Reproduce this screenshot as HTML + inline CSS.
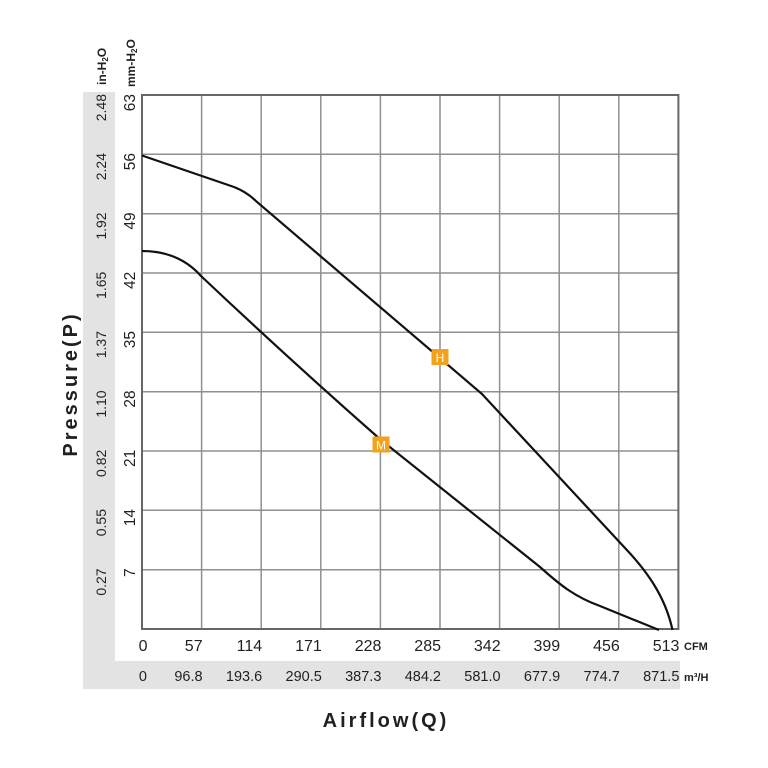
<!DOCTYPE html>
<html><head><meta charset="utf-8"><style>
html,body{margin:0;padding:0;background:#fff;}
svg{display:block;}
text{font-family:"Liberation Sans",sans-serif;fill:#231f20;}
</style></head><body>
<svg width="768" height="768" viewBox="0 0 768 768" xmlns="http://www.w3.org/2000/svg">
<rect x="0" y="0" width="768" height="768" fill="#fff"/>
<!-- gray bands -->
<rect x="83" y="92" width="32" height="597" fill="#e3e3e3"/>
<rect x="83" y="661" width="597" height="28" fill="#e3e3e3"/>
<!-- grid -->
<g stroke="#8f8f8f" stroke-width="1.5">
<line x1="201.6" y1="95" x2="201.6" y2="629"/>
<line x1="261.2" y1="95" x2="261.2" y2="629"/>
<line x1="320.8" y1="95" x2="320.8" y2="629"/>
<line x1="380.4" y1="95" x2="380.4" y2="629"/>
<line x1="440" y1="95" x2="440" y2="629"/>
<line x1="499.6" y1="95" x2="499.6" y2="629"/>
<line x1="559.2" y1="95" x2="559.2" y2="629"/>
<line x1="618.8" y1="95" x2="618.8" y2="629"/>
<line x1="142" y1="154.3" x2="678.4" y2="154.3"/>
<line x1="142" y1="213.7" x2="678.4" y2="213.7"/>
<line x1="142" y1="273" x2="678.4" y2="273"/>
<line x1="142" y1="332.3" x2="678.4" y2="332.3"/>
<line x1="142" y1="391.7" x2="678.4" y2="391.7"/>
<line x1="142" y1="451" x2="678.4" y2="451"/>
<line x1="142" y1="510.3" x2="678.4" y2="510.3"/>
<line x1="142" y1="569.7" x2="678.4" y2="569.7"/>
</g>
<rect x="142" y="95" width="536.4" height="534" fill="none" stroke="#666" stroke-width="2"/>
<!-- curves -->
<path d="M142 155.5 L234 187 Q247 192 257 202 L482 394 L625 548 C645 569 665 595 672.5 630" fill="none" stroke="#111" stroke-width="2.2"/>
<path d="M142 251 C165 251 185 258 201 276 Q290 360 381 440 L540 567 C560 585 575 597 600 606 L659 630" fill="none" stroke="#111" stroke-width="2.2"/>
<!-- markers -->
<rect x="431.5" y="349" width="17" height="16" fill="#f2a31b"/>
<text x="440" y="362" font-size="12" text-anchor="middle" style="fill:#fff">H</text>
<rect x="372.5" y="436.5" width="17" height="16" fill="#f2a31b"/>
<text x="381" y="449.5" font-size="12" text-anchor="middle" style="fill:#fff">M</text>
<!-- y tick labels mm -->
<g font-size="15.5" text-anchor="end">
<text transform="translate(135,94) rotate(-90)">63</text>
<text transform="translate(135,153) rotate(-90)">56</text>
<text transform="translate(135,212.4) rotate(-90)">49</text>
<text transform="translate(135,271.7) rotate(-90)">42</text>
<text transform="translate(135,331) rotate(-90)">35</text>
<text transform="translate(135,390.4) rotate(-90)">28</text>
<text transform="translate(135,449.7) rotate(-90)">21</text>
<text transform="translate(135,509) rotate(-90)">14</text>
<text transform="translate(135,568.4) rotate(-90)">7</text>
</g>
<g font-size="14" text-anchor="end">
<text transform="translate(106,94) rotate(-90)">2.48</text>
<text transform="translate(106,153) rotate(-90)">2.24</text>
<text transform="translate(106,212.4) rotate(-90)">1.92</text>
<text transform="translate(106,271.7) rotate(-90)">1.65</text>
<text transform="translate(106,331) rotate(-90)">1.37</text>
<text transform="translate(106,390.4) rotate(-90)">1.10</text>
<text transform="translate(106,449.7) rotate(-90)">0.82</text>
<text transform="translate(106,509) rotate(-90)">0.55</text>
<text transform="translate(106,568.4) rotate(-90)">0.27</text>
</g>
<!-- units -->
<text transform="translate(106,85) rotate(-90)" font-size="12" font-weight="bold">in-H<tspan font-size="8" dy="2">2</tspan><tspan dy="-2">O</tspan></text>
<text transform="translate(135,87) rotate(-90)" font-size="12" font-weight="bold">mm-H<tspan font-size="8" dy="2">2</tspan><tspan dy="-2">O</tspan></text>
<!-- x tick labels CFM -->
<g font-size="16" text-anchor="end">
<text x="147.5" y="651">0</text>
<text x="202.6" y="651">57</text>
<text x="262.2" y="651">114</text>
<text x="321.8" y="651">171</text>
<text x="381.4" y="651">228</text>
<text x="441" y="651">285</text>
<text x="500.6" y="651">342</text>
<text x="560.2" y="651">399</text>
<text x="619.8" y="651">456</text>
<text x="679.4" y="651">513</text>
</g>
<text x="684" y="650" font-size="11" font-weight="bold">CFM</text>
<g font-size="14.5" text-anchor="end">
<text x="147" y="681">0</text>
<text x="202.6" y="681">96.8</text>
<text x="262.2" y="681">193.6</text>
<text x="321.8" y="681">290.5</text>
<text x="381.4" y="681">387.3</text>
<text x="441" y="681">484.2</text>
<text x="500.6" y="681">581.0</text>
<text x="560.2" y="681">677.9</text>
<text x="619.8" y="681">774.7</text>
<text x="679.4" y="681">871.5</text>
</g>
<text x="684" y="681" font-size="11" font-weight="bold">m³/H</text>
<!-- axis titles -->
<text transform="translate(77,384) rotate(-90)" font-size="20" font-weight="bold" text-anchor="middle" letter-spacing="3">Pressure(P)</text>
<text x="386" y="727" font-size="20" font-weight="bold" text-anchor="middle" letter-spacing="3">Airflow(Q)</text>
</svg>
</body></html>
